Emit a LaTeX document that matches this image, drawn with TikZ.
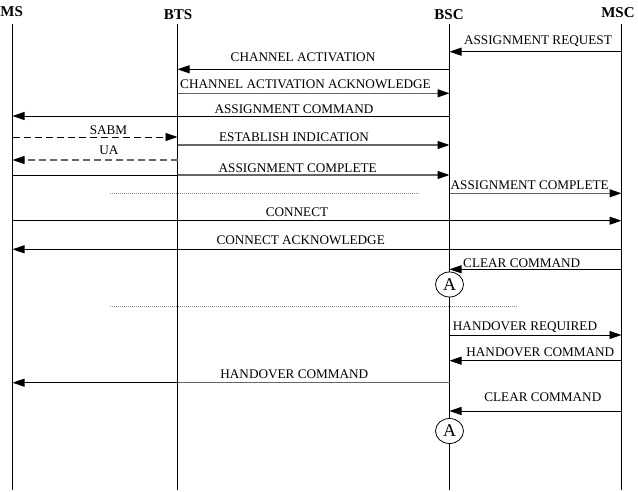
\documentclass[tikz,border=0pt]{standalone}
\usepackage{fontspec}
\setmainfont{Liberation Serif}
\usetikzlibrary{arrows.meta,shapes.geometric}
\begin{document}
\begin{tikzpicture}[x=1pt,y=-1pt,
  life/.style={line width=1.4pt},
  msg/.style={line width=0.9pt,-{Triangle[length=12pt,width=8pt,color=black]}},
  gmsg/.style={msg,draw=black!60,line width=1.2pt},
  gline/.style={draw=black!60,line width=1.2pt},
  dmsg/.style={msg,dash pattern=on 7pt off 4pt},
  gdmsg/.style={gmsg,dash pattern=on 7pt off 4pt},
  lbl/.style={anchor=base,inner sep=0pt,font=\fontsize{13.2}{15}\selectfont},
  ttl/.style={anchor=base,inner sep=0pt,font=\fontsize{15}{17}\selectfont\bfseries},
  sepline/.style={black!45,line width=0.8pt,dash pattern=on 1pt off 1pt},
  conn/.style={ellipse,draw,fill=white,line width=0.8pt,minimum width=28pt,minimum height=25pt,inner sep=0pt,font=\fontsize{18}{18}\selectfont}
]
\useasboundingbox (0,0) rectangle (638,492);
% titles
\node[ttl] (tMS)  at (11.7,16.7) {MS};
\node[ttl] (tBTS) at (178,19.3) {BTS};
\node[ttl] (tBSC) at (449,19.3) {BSC};
\node[ttl] (tMSC) at (618,17.5) {MSC};
% lifelines
\foreach \L/\x in {MS/12.5,BTS/177.5,BSC/449.5,MSC/621.5}{
  \coordinate (\L top) at (\x,24);
  \coordinate (\L bot) at (\x,490);
  \draw[life] (\L top) -- (\L bot);
}
% message endpoints
\foreach \n/\y in {1/51.7,2/69.3,3/93.3,4/116,5/137,6/145,7/160,8/175,10/193.3,11/220.7,12/249.3,13/269.3,16/335,17/360.7,18/382.7,19/411}{
  \foreach \L/\x in {MS/12.5,BTS/177.5,BSC/449.5,MSC/621.5}{
    \coordinate (\L\n) at (\x,\y);
  }
}
% messages
\draw[msg]   (MSC1) -- (BSC1);
\node[lbl] (l1) at (538,44.3) {ASSIGNMENT REQUEST};
\draw[msg]   (BSC2) -- (BTS2);
\node[lbl] (l2) at (303,61.7) {CHANNEL ACTIVATION};
\draw[gmsg]  (BTS3) -- (BSC3);
\node[lbl] (l3) at (305.5,88.3) {CHANNEL ACTIVATION ACKNOWLEDGE};
\draw[msg]   (BSC4) -- (MS4);
\node[lbl] (l4) at (294,113.3) {ASSIGNMENT COMMAND};
\draw[dmsg]  (MS5) -- (BTS5);
\node[lbl] (l5) at (108.5,135) {SABM};
\draw[gmsg]  (BTS6) -- (BSC6);
\node[lbl] (l6) at (294,141.7) {ESTABLISH INDICATION};
\draw[gdmsg] (BTS7) -- (MS7);
\node[lbl] (l7) at (109,154.3) {UA};
\draw[line width=0.9pt] (MS8) -- (BTS8);
\draw[gmsg]  (BTS8) -- (BSC8);
\node[lbl] (l8) at (297.7,172.7) {ASSIGNMENT COMPLETE};
\coordinate (d1a) at (110,193.3);
\coordinate (d1b) at (419.7,193.3);
\draw[sepline] (d1a) -- (d1b);
\draw[gmsg]  (BSC10) -- (MSC10);
\node[lbl] (l10) at (529.7,190) {ASSIGNMENT COMPLETE};
\draw[msg]   (MS11) -- (MSC11);
\node[lbl] (l11) at (297,216.7) {CONNECT};
\draw[msg]   (MSC12) -- (MS12);
\node[lbl] (l12) at (300.7,245) {CONNECT ACKNOWLEDGE};
\draw[msg]   (MSC13) -- (BSC13);
\node[lbl] (l13) at (521.7,267.3) {CLEAR COMMAND};
\node[conn] (A1) at (449.5,284.5) {A};
\coordinate (d2a) at (110,306);
\coordinate (d2b) at (518,306);
\draw[sepline] (d2a) -- (d2b);
\draw[msg]   (BSC16) -- (MSC16);
\node[lbl] (l16) at (525,330.7) {HANDOVER REQUIRED};
\draw[msg]   (MSC17) -- (BSC17);
\node[lbl] (l17) at (540.3,356) {HANDOVER COMMAND};
\draw[gline] (BSC18) -- (BTS18);
\draw[msg]   (BTS18) -- (MS18);
\node[lbl] (l18) at (294.3,378) {HANDOVER COMMAND};
\draw[msg]   (MSC19) -- (BSC19);
\node[lbl] (l19) at (542.8,401.7) {CLEAR COMMAND};
\node[conn] (A2) at (449.5,431) {A};
\end{tikzpicture}
\end{document}
